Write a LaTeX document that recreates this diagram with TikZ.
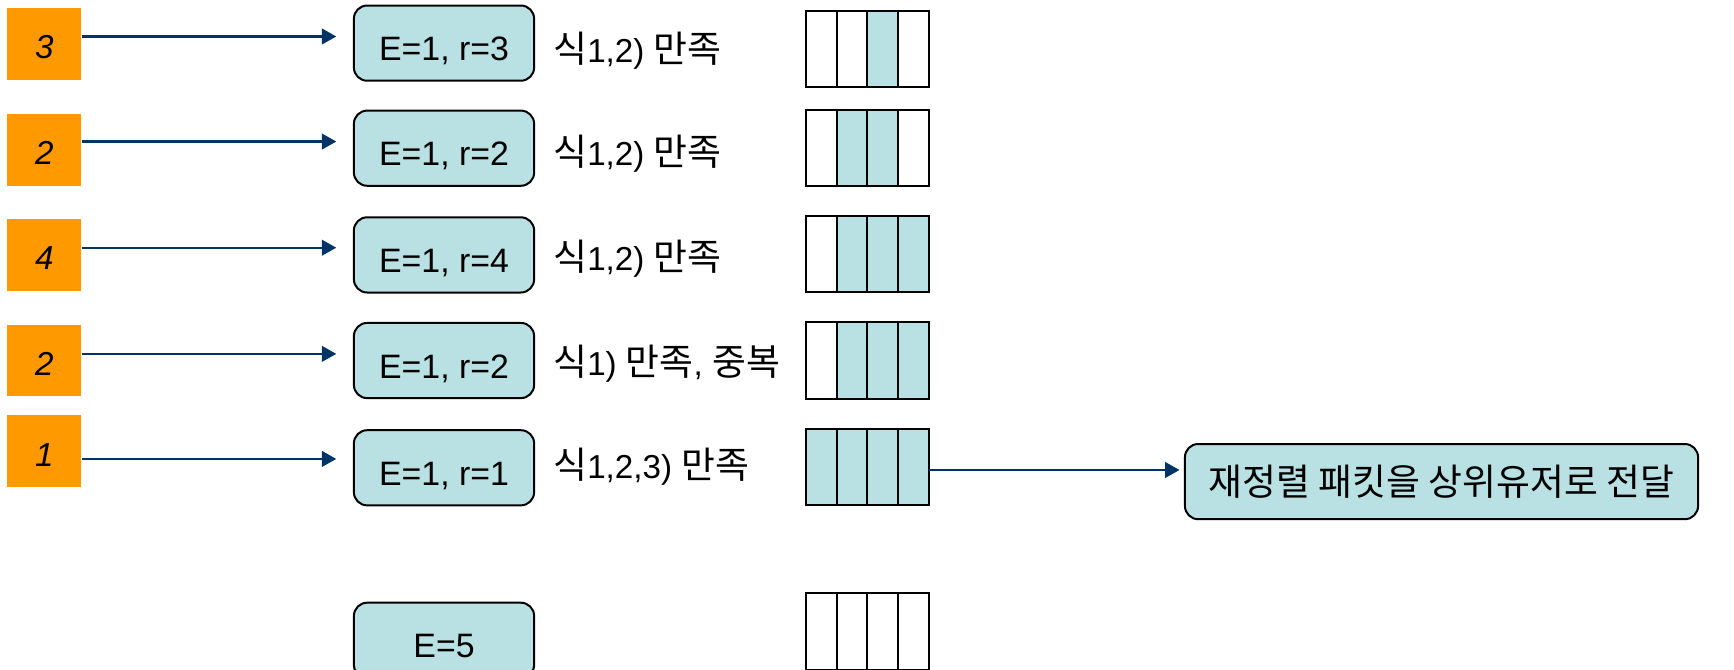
\documentclass[tikz,border=0pt]{standalone}
\usepackage{fontspec}
\setmainfont{Liberation Sans}
\newfontfamily\kr[Scale=1.11]{Noto Sans CJK KR}
\usetikzlibrary{arrows.meta}
\definecolor{orng}{RGB}{255,153,0}
\definecolor{lblue}{RGB}{185,224,227}
\definecolor{navy}{RGB}{0,51,102}
\tikzset{
  onum/.style={fill=orng, minimum width=33.5pt, minimum height=32.5pt, inner sep=0pt, text height=13.5pt, text depth=0pt, font=\fontsize{15}{18}\selectfont\itshape},
  ebox/.style={draw=black, line width=0.9pt, rounded corners=6pt, fill=lblue, minimum width=81.5pt, minimum height=34pt, inner sep=0pt},
  etext/.style={text height=16pt, text depth=0pt, font=\fontsize{15.3}{18}\selectfont},
  lbl/.style={anchor=west, inner sep=0pt},
  tbl/.style={minimum width=55pt, minimum height=34pt, inner sep=0pt},
  tline/.style={draw=black, line width=0.9pt},
  arr/.style={draw=navy, line width=1.05pt, -{Triangle[length=6.5pt,width=7pt]}},
}
\newcommand\tcell[2]{\fill[lblue] ([xshift={(#2-1)*13.75pt}]#1.north west) rectangle ([xshift={#2*13.75pt}]#1.south west);}
\newcommand\tgrid[1]{%
  \foreach \k in {1,2,3} {\draw[tline] ([xshift={\k*13.75pt}]#1.north west) -- ([xshift={\k*13.75pt}]#1.south west);}
  \draw[tline] (#1.north west) rectangle (#1.south east);}
\begin{document}
\begin{tikzpicture}[x=0.5pt, y=-0.5pt, font=\fontsize{15}{18}\selectfont]
\useasboundingbox (0,0) rectangle (1568,605);
\clip (0,0) rectangle (1568,605);
% orange numbers
\node[onum] (o1) at (40,39.5) {3};
\node[onum] (o2) at (40,135.5) {2};
\node[onum] (o3) at (40,230.5) {4};
\node[onum] (o4) at (40,326) {2};
\node[onum] (o5) at (40,408) {1};
% E boxes
\node[ebox, etext] (e1) at (401.5,39) {E=1, r=3};
\node[ebox, etext] (e2) at (401.5,134) {E=1, r=2};
\node[ebox, etext] (e3) at (401.5,230.5) {E=1, r=4};
\node[ebox, etext] (e4) at (401.5,326) {E=1, r=2};
\node[ebox, etext] (e5) at (401.5,423) {E=1, r=1};
\node[ebox, etext] (e6) at (401.5,579) {E=5};
% arrows
\draw[arr, shorten >=7.5pt] ([yshift=3.25pt]o1.east) -- ([yshift=3.25pt]o1.east -| e1.west);
\draw[arr, shorten >=7.5pt] ([yshift=3.75pt]o2.east) -- ([yshift=3.75pt]o2.east -| e2.west);
\draw[arr, shorten >=7.5pt] ([yshift=3.25pt]o3.east) -- ([yshift=3.25pt]o3.east -| e3.west);
\draw[arr, shorten >=7.5pt] ([yshift=3pt]o4.east) -- ([yshift=3pt]o4.east -| e4.west);
\draw[arr, shorten >=7.5pt] ([yshift=-3.5pt]o5.east) -- ([yshift=-3.5pt]o5.east -| e5.west);
% labels
\node[lbl] (l1) at (500,46) {{\kr 식}1,2) {\kr 만족}};
\node[lbl] (l2) at (500,139) {{\kr 식}1,2) {\kr 만족}};
\node[lbl] (l3) at (500,234) {{\kr 식}1,2) {\kr 만족}};
\node[lbl] (l4) at (500,329) {{\kr 식}1) {\kr 만족}, {\kr 중복}};
\node[lbl] (l5) at (500,422) {{\kr 식}1,2,3) {\kr 만족}};
% tables
\node[tbl] (t1) at (784.5,44.5) {};
\node[tbl] (t2) at (784.5,134) {};
\node[tbl] (t3) at (784.5,230) {};
\node[tbl] (t4) at (784.5,326) {};
\node[tbl] (t5) at (784.5,422) {};
\node[tbl] (t6) at (784.5,571) {};
\tcell{t1}{3}
\tcell{t2}{2}\tcell{t2}{3}
\tcell{t3}{2}\tcell{t3}{3}\tcell{t3}{4}
\tcell{t4}{2}\tcell{t4}{3}\tcell{t4}{4}
\tcell{t5}{1}\tcell{t5}{2}\tcell{t5}{3}\tcell{t5}{4}
\tgrid{t1}\tgrid{t2}\tgrid{t3}\tgrid{t4}\tgrid{t5}\tgrid{t6}
% final box
\node[ebox, minimum width=232pt] (fin) at (1303.5,435.5) {\kr 재정렬 패킷을 상위유저로 전달};
\draw[arr, shorten >=2pt] ([yshift=-1.5pt]t5.east) -- ([yshift=-1.5pt]t5.east -| fin.west);
\end{tikzpicture}
\end{document}
